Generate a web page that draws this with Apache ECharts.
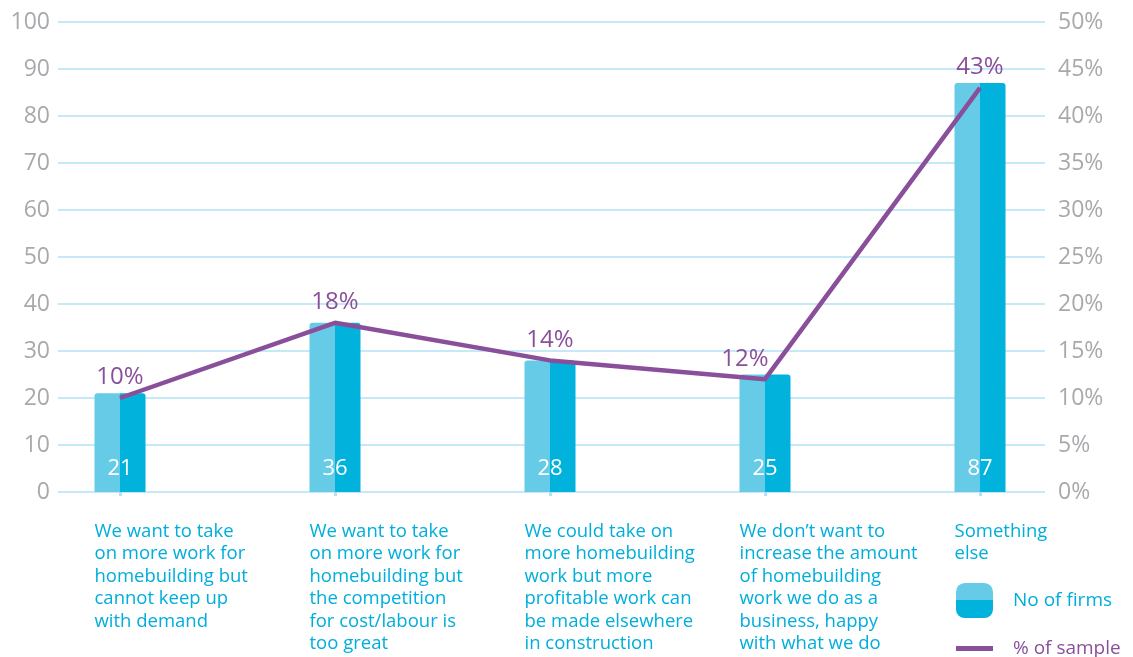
<!DOCTYPE html>
<html>
<head>
<meta charset="utf-8">
<script src="https://cdn.jsdelivr.net/npm/echarts@6/dist/echarts.min.js"></script>
<style>
  html, body { margin: 0; padding: 0; background: #ffffff; }
  #chart { width: 1133px; height: 657px; }
</style>
</head>
<body>
<div id="chart"></div>
<script>
// Reasons given by firms, count of firms and share of the sample
const categories = [
  'We want to take\non more work for\nhomebuilding but\ncannot keep up\nwith demand',
  'We want to take\non more work for\nhomebuilding but\nthe competition\nfor cost/labour is\ntoo great',
  'We could take on\nmore homebuilding\nwork but more\nprofitable work can\nbe made elsewhere\nin construction',
  'We don\u2019t want to\nincrease the amount\nof homebuilding\nwork we do as a\nbusiness, happy\nwith what we do',
  'Something\nelse'
];
const firms = [21, 36, 28, 25, 87];
const sharePct = [10, 18, 14, 12, 43];
const seriesNames = ['No of firms', '% of sample'];

const LIGHT = '#65cbe7';
const DARK = '#00b2dc';
const PURPLE = '#8a4f9a';
const GRID_LINE = '#b2e2f3';
const TICK_GRAY = '#a7a9ac';
const TEXT_CYAN = '#00aedb';
const FONT = '"Open Sans", "DejaVu Sans", sans-serif';

const TOP = 22, BOTTOM = 165;

const chart = echarts.init(document.getElementById('chart'));

chart.setOption({
  animation: false,
  backgroundColor: '#ffffff',
  grid: [
    // axes and gridlines
    { left: 58, right: 88, top: TOP, bottom: BOTTOM },
    // marks
    { left: 12.5, right: 45.5, top: TOP, bottom: BOTTOM }
  ],
  xAxis: [
    { gridIndex: 0, type: 'value', min: 0, max: 1, show: false },
    {
      gridIndex: 1, type: 'category', data: categories,
      axisLine: { show: false },
      axisTick: { show: true, alignWithLabel: true, length: 4, lineStyle: { color: GRID_LINE, width: 3 } },
      axisLabel: { show: false }
    }
  ],
  yAxis: [
    {
      gridIndex: 0, type: 'value', min: 0, max: 100, interval: 10, position: 'left',
      axisLine: { show: false }, axisTick: { show: false },
      axisLabel: { color: TICK_GRAY, fontSize: 23, fontFamily: FONT, margin: 8 },
      splitLine: { show: true, lineStyle: { color: GRID_LINE, width: 1.5 } }
    },
    {
      gridIndex: 0, type: 'value', min: 0, max: 50, interval: 5, position: 'right',
      axisLine: { show: false }, axisTick: { show: false },
      axisLabel: { color: TICK_GRAY, fontSize: 23, fontFamily: FONT, margin: 13, formatter: '{value}%' },
      splitLine: { show: false }
    },
    { gridIndex: 1, type: 'value', min: 0, max: 100, show: false },
    { gridIndex: 1, type: 'value', min: 0, max: 50, show: false }
  ],
  legend: [
    {
      left: 956, top: 583, padding: 0,
      itemWidth: 37, itemHeight: 35,
      textStyle: { fontSize: 19, fontFamily: FONT, padding: [0, 0, 0, 15] },
      data: [{
        name: seriesNames[0],
        icon: 'roundRect',
        itemStyle: {
          color: {
            type: 'linear', x: 0, y: 0, x2: 0, y2: 1,
            colorStops: [
              { offset: 0, color: LIGHT }, { offset: 0.5, color: LIGHT },
              { offset: 0.5, color: DARK }, { offset: 1, color: DARK }
            ]
          }
        },
        textStyle: { color: TEXT_CYAN }
      }]
    },
    {
      left: 956, top: 639, padding: 0,
      itemWidth: 37, itemHeight: 5,
      textStyle: { fontSize: 19, fontFamily: FONT, padding: [0, 0, 0, 15] },
      data: [{
        name: seriesNames[1],
        icon: 'rect',
        itemStyle: { color: PURPLE },
        textStyle: { color: PURPLE }
      }]
    }
  ],
  series: [
    {
      name: seriesNames[0],
      type: 'bar',
      xAxisIndex: 1, yAxisIndex: 2,
      data: firms,
      barWidth: 51,
      itemStyle: {
        borderRadius: [3, 3, 0, 0],
        color: {
          type: 'linear', x: 0, y: 0, x2: 1, y2: 0,
          colorStops: [
            { offset: 0, color: LIGHT }, { offset: 0.5, color: LIGHT },
            { offset: 0.5, color: DARK }, { offset: 1, color: DARK }
          ]
        }
      },
      label: {
        show: true, position: 'insideBottom', distance: 12,
        color: '#ffffff', fontSize: 22, fontFamily: FONT
      }
    },
    {
      name: seriesNames[1],
      type: 'line',
      xAxisIndex: 1, yAxisIndex: 3,
      data: sharePct.map((v, i) => i === 3
        ? { value: v, label: { offset: [-20, 0] } }
        : v),
      symbol: 'circle',
      symbolSize: 1,
      showSymbol: true,
      lineStyle: { color: PURPLE, width: 4.5 },
      itemStyle: { color: PURPLE },
      label: {
        show: true, position: 'top', distance: 8,
        color: PURPLE, fontSize: 24, fontFamily: FONT,
        formatter: '{c}%'
      },
      z: 5
    }
  ]
});

// Category captions, left-aligned under each bar
const barHalf = 25.5;
const yTop = chart.convertToPixel({ yAxisIndex: 2 }, 0) + 28;
chart.setOption({
  graphic: categories.map((c, i) => ({
    type: 'text',
    x: chart.convertToPixel({ xAxisIndex: 1 }, i) - barHalf,
    y: yTop,
    style: {
      text: c,
      fill: TEXT_CYAN,
      font: '18.5px ' + FONT,
      lineHeight: 22.5,
      verticalAlign: 'top',
      align: 'left'
    }
  }))
});
</script>
</body>
</html>
